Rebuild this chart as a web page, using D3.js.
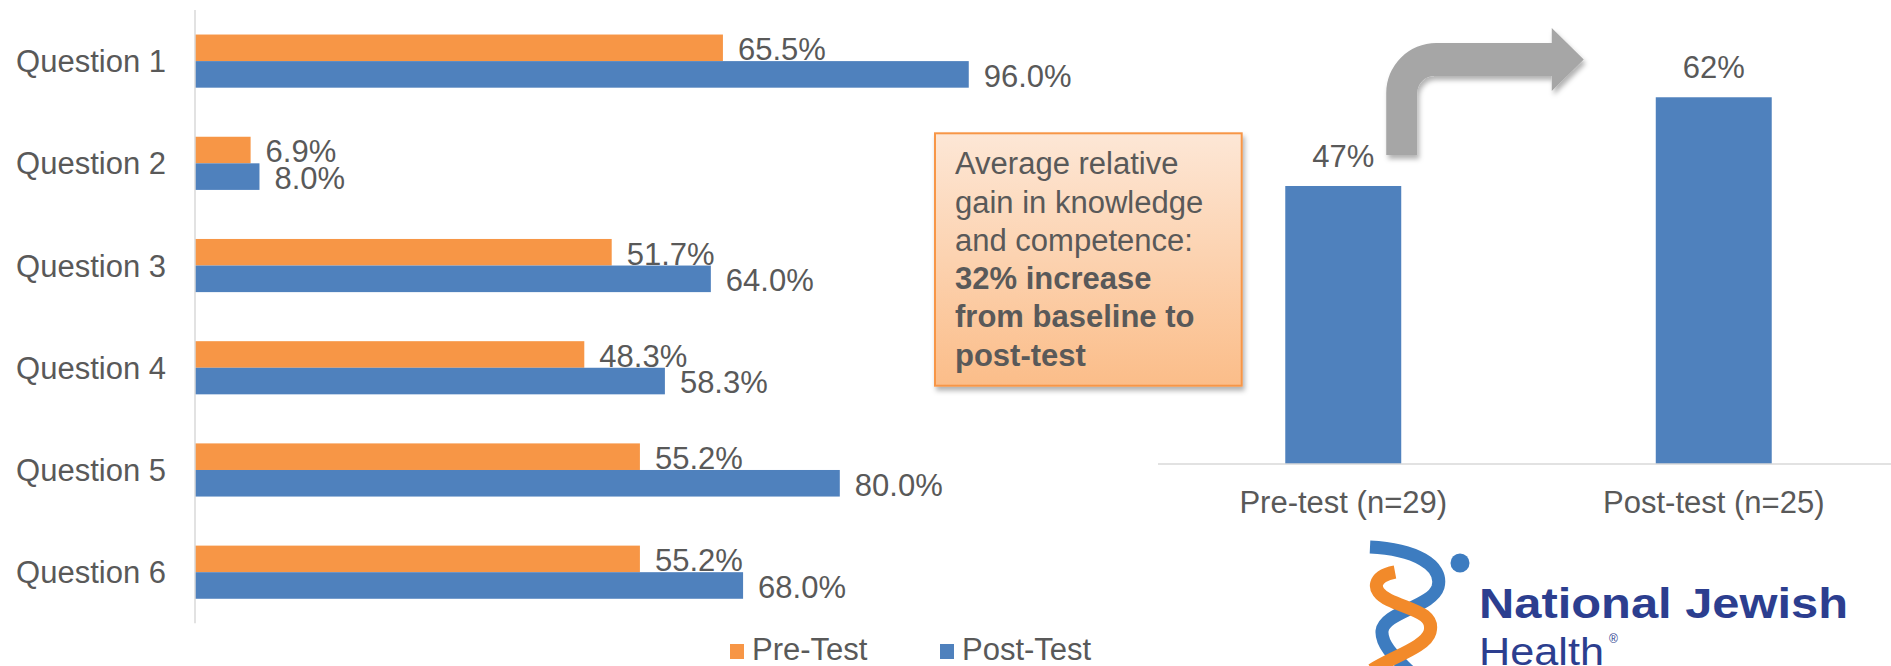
<!DOCTYPE html>
<meta charset="utf-8">
<style>
body {
	margin: 0;
	padding: 0;
	background: #fff;
}
svg text {
	font-family: "Liberation Sans", Arial, sans-serif;
}
.axis-line {
	stroke: #d9d9d9;
	stroke-width: 1.5px;
}
.lbl {
	fill: #595959;
	font-size: 31px;
}
</style>
<body>
<div id="chart"></div>
<script src="https://d3js.org/d3.v7.min.js"></script>
<script>
// left chart data
var questions = ["Question 1", "Question 2", "Question 3", "Question 4", "Question 5", "Question 6"];
var preTest = [65.5, 6.9, 51.7, 48.3, 55.2, 55.2];
var postTest = [96.0, 8.0, 64.0, 58.3, 80.0, 68.0];
var seriesNames = ["Pre-Test", "Post-Test"];

// right chart data
var groups = ["Pre-test (n=29)", "Post-test (n=25)"];
var groupScores = [47, 62];

// callout text
var calloutLines = ["Average relative", "gain in knowledge", "and competence:"];
var calloutBold = ["32% increase", "from baseline to", "post-test"];

var orange = "#f79646", blue = "#4f81bd";
var width = 1891, height = 666;

var svg = d3.select("#chart").append("svg")
		.attr("width", width)
		.attr("height", height);

var defs = svg.append("defs");
var grad = defs.append("linearGradient")
		.attr("id", "calloutGrad")
		.attr("x1", 0).attr("y1", 0).attr("x2", 0).attr("y2", 1);
grad.append("stop").attr("offset", "0%").attr("stop-color", "#fde7d6");
grad.append("stop").attr("offset", "100%").attr("stop-color", "#fbbd89");

var shadow = defs.append("filter").attr("id", "shadow")
		.attr("x", "-10%").attr("y", "-10%").attr("width", "130%").attr("height", "130%");
shadow.append("feDropShadow")
		.attr("dx", 2).attr("dy", 4).attr("stdDeviation", 2.5)
		.attr("flood-color", "#000").attr("flood-opacity", 0.3);

// ---------- left: horizontal grouped bars ----------
var x = d3.scaleLinear().domain([0, 100]).range([195, 1001]);
var y = d3.scaleBand().domain(questions).range([10, 623.3])
		.paddingInner(0.48).paddingOuter(0.24);
var ySub = d3.scaleBand().domain(seriesNames).range([0, y.bandwidth()]);

var rows = questions.map(function (q, i) {
	return {q: q, vals: [
		{s: "Pre-Test", v: preTest[i], c: orange},
		{s: "Post-Test", v: postTest[i], c: blue}
	]};
});

var rowG = svg.selectAll(".row")
		.data(rows).enter()
		.append("g")
		.attr("class", "row")
		.attr("transform", function (d) { return "translate(0," + y(d.q) + ")"; });

rowG.selectAll("rect")
		.data(function (d) { return d.vals; }).enter()
		.append("rect")
		.attr("x", x(0))
		.attr("y", function (d) { return ySub(d.s); })
		.attr("width", function (d) { return x(d.v) - x(0); })
		.attr("height", ySub.bandwidth())
		.attr("fill", function (d) { return d.c; });

rowG.selectAll(".val")
		.data(function (d) { return d.vals; }).enter()
		.append("text")
		.attr("class", "lbl val")
		.attr("x", function (d) { return x(d.v) + 15; })
		.attr("y", function (d) { return ySub(d.s) + ySub.bandwidth() - 1; })
		.text(function (d) { return d.v.toFixed(1) + "%"; });

svg.selectAll(".qlbl")
		.data(questions).enter()
		.append("text")
		.attr("class", "lbl qlbl")
		.attr("x", 166)
		.attr("y", function (d) { return y(d) + y.bandwidth() / 2 + 11; })
		.attr("text-anchor", "end")
		.text(function (d) { return d; });

svg.append("line")
		.attr("class", "axis-line")
		.attr("x1", x(0)).attr("x2", x(0))
		.attr("y1", 10).attr("y2", 623.3);

// legend
var legend = svg.selectAll(".legend")
		.data([{n: "Pre-Test", c: orange, x: 730}, {n: "Post-Test", c: blue, x: 940}])
		.enter().append("g")
		.attr("class", "legend");
legend.append("rect")
		.attr("x", function (d) { return d.x; })
		.attr("y", 644)
		.attr("width", 14).attr("height", 15)
		.attr("fill", function (d) { return d.c; });
legend.append("text")
		.attr("class", "lbl")
		.attr("x", function (d) { return d.x + 22; })
		.attr("y", 660)
		.text(function (d) { return d.n; });

// ---------- right: vertical bars ----------
var xb = d3.scaleBand().domain(groups).range([1158, 1899])
		.paddingInner(0.687).paddingOuter(0.3435);
var yb = d3.scaleLinear().domain([0, 100]).range([464, -127.5]);

svg.selectAll(".vbar")
		.data(groups).enter()
		.append("rect")
		.attr("class", "vbar")
		.attr("x", function (d) { return xb(d); })
		.attr("y", function (d, i) { return yb(groupScores[i]); })
		.attr("width", xb.bandwidth())
		.attr("height", function (d, i) { return yb(0) - yb(groupScores[i]); })
		.attr("fill", blue);

svg.selectAll(".vval")
		.data(groups).enter()
		.append("text")
		.attr("class", "lbl vval")
		.attr("x", function (d) { return xb(d) + xb.bandwidth() / 2; })
		.attr("y", function (d, i) { return yb(groupScores[i]) - 19; })
		.attr("text-anchor", "middle")
		.text(function (d, i) { return groupScores[i] + "%"; });

svg.append("line")
		.attr("class", "axis-line")
		.attr("x1", 1158).attr("x2", width)
		.attr("y1", yb(0)).attr("y2", yb(0));

svg.selectAll(".glbl")
		.data(groups).enter()
		.append("text")
		.attr("class", "lbl glbl")
		.attr("x", function (d) { return xb(d) + xb.bandwidth() / 2; })
		.attr("y", yb(0) + 49)
		.attr("text-anchor", "middle")
		.text(function (d) { return d; });

// bent arrow from pre bar to post bar
var sx = xb(groups[0]) + xb.bandwidth() - 15, sw = 31,
	sb = yb(groupScores[0]) - 31,
	shaftTop = 43, shaftBot = 76, R = 50, r = 17,
	hx = xb(groups[1]) - 104, tip = hx + 32;
var arrow = "M" + sx + "," + sb +
	" L" + sx + "," + (shaftTop + R) +
	" A" + R + "," + R + " 0 0 1 " + (sx + R) + "," + shaftTop +
	" L" + hx + "," + shaftTop +
	" L" + hx + "," + (shaftTop - 15) +
	" L" + tip + "," + ((shaftTop + shaftBot) / 2) +
	" L" + hx + "," + (shaftBot + 15) +
	" L" + hx + "," + shaftBot +
	" L" + (sx + sw + r) + "," + shaftBot +
	" A" + r + "," + r + " 0 0 0 " + (sx + sw) + "," + (shaftBot + r) +
	" L" + (sx + sw) + "," + sb + " Z";
svg.append("path")
		.attr("d", arrow)
		.attr("fill", "#a6a6a6")
		.attr("filter", "url(#shadow)");

// callout box
var box = svg.append("g").attr("transform", "translate(935,133.3)");
box.append("rect")
		.attr("width", 306.7).attr("height", 252.4)
		.attr("fill", "url(#calloutGrad)")
		.attr("stroke", orange).attr("stroke-width", 2)
		.attr("filter", "url(#shadow)");
box.selectAll(".cl")
		.data(calloutLines.concat(calloutBold)).enter()
		.append("text")
		.attr("class", "lbl cl")
		.attr("x", 20)
		.attr("y", function (d, i) { return 41 + i * 38.3; })
		.attr("font-weight", function (d, i) { return i >= calloutLines.length ? "bold" : "normal"; })
		.text(function (d) { return d; });

// logo
var logo = svg.append("g");
logo.append("path")
		.attr("d", "M1370,547 C1414,549 1444,565 1438,587 C1432,607 1384,612 1382,631 C1381,646 1398,660 1410,672")
		.attr("fill", "none").attr("stroke", "#3d7cc0").attr("stroke-width", 13);
logo.append("path")
		.attr("d", "M1395,572 C1374,576 1369,590 1389,600 C1410,610 1435,613 1430,632 C1426,647 1392,657 1372,670")
		.attr("fill", "none").attr("stroke", "#f28a2a").attr("stroke-width", 13);
logo.append("circle")
		.attr("cx", 1460).attr("cy", 563).attr("r", 9.5)
		.attr("fill", "#3d7cc0");
logo.append("text")
		.attr("x", 1479).attr("y", 618)
		.attr("font-size", 43).attr("font-weight", "bold")
		.attr("textLength", 369).attr("lengthAdjust", "spacingAndGlyphs")
		.attr("fill", "#2c3e8f")
		.text("National Jewish");
logo.append("text")
		.attr("x", 1479).attr("y", 665)
		.attr("font-size", 38)
		.attr("textLength", 125).attr("lengthAdjust", "spacingAndGlyphs")
		.attr("fill", "#2c3e8f")
		.text("Health");
logo.append("text")
		.attr("x", 1609).attr("y", 643)
		.attr("font-size", 12)
		.attr("fill", "#2c3e8f")
		.text("®");
</script>
</body>
